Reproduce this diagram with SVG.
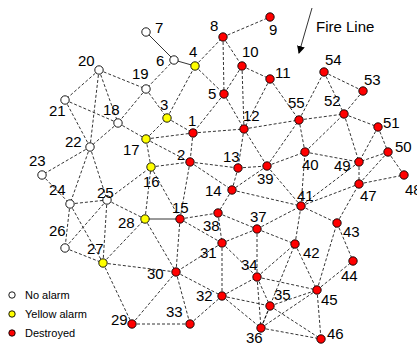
<svg xmlns="http://www.w3.org/2000/svg" width="417" height="345" viewBox="0 0 417 345">
<defs>
<style>
.e{stroke:#000;stroke-width:0.8;stroke-dasharray:3,2;fill:none}
.s{stroke:#000;stroke-width:0.8;fill:none}
.w{fill:#fff;stroke:#000;stroke-width:0.9}
.y{fill:#ffff00;stroke:#000;stroke-width:0.9}
.r{fill:#ff0000;stroke:#000;stroke-width:0.9}
.t{font-family:"Liberation Sans",Arial,sans-serif;font-size:15px;fill:#000}
.l{font-family:"Liberation Sans",Arial,sans-serif;font-size:11px;fill:#000}
</style>
<marker id="ah" markerWidth="8" markerHeight="8" refX="7" refY="4" orient="auto" markerUnits="userSpaceOnUse"><path d="M0,0 L8,4 L0,8 Z" fill="#000"/></marker>
</defs>
<rect width="417" height="345" fill="#fff"/>
<g id="connectors">
<line class="s" x1="146" y1="32" x2="174" y2="60"/>
<line class="s" x1="174" y1="60" x2="195" y2="66"/>
<line class="e" x1="174" y1="60" x2="146" y2="89"/>
<line class="e" x1="99" y1="70" x2="146" y2="89"/>
<line class="e" x1="99" y1="70" x2="65" y2="100"/>
<line class="e" x1="99" y1="70" x2="90" y2="147"/>
<line class="e" x1="99" y1="70" x2="118" y2="123"/>
<line class="e" x1="65" y1="100" x2="118" y2="123"/>
<line class="e" x1="65" y1="100" x2="90" y2="147"/>
<line class="e" x1="146" y1="89" x2="118" y2="123"/>
<line class="e" x1="146" y1="89" x2="167" y2="118"/>
<line class="e" x1="118" y1="123" x2="90" y2="147"/>
<line class="e" x1="118" y1="123" x2="146" y2="139"/>
<line class="e" x1="90" y1="147" x2="42" y2="175"/>
<line class="e" x1="90" y1="147" x2="70" y2="204"/>
<line class="e" x1="90" y1="147" x2="107" y2="200"/>
<line class="e" x1="42" y1="175" x2="70" y2="204"/>
<line class="e" x1="70" y1="204" x2="107" y2="200"/>
<line class="e" x1="70" y1="204" x2="65" y2="248"/>
<line class="e" x1="70" y1="204" x2="103" y2="263"/>
<line class="e" x1="107" y1="200" x2="65" y2="248"/>
<line class="e" x1="107" y1="200" x2="103" y2="263"/>
<line class="e" x1="107" y1="200" x2="145" y2="219"/>
<line class="e" x1="107" y1="200" x2="151" y2="167"/>
<line class="e" x1="65" y1="248" x2="103" y2="263"/>
<line class="e" x1="103" y1="263" x2="145" y2="219"/>
<line class="e" x1="103" y1="263" x2="176" y2="272"/>
<line class="e" x1="103" y1="263" x2="132" y2="324"/>
<line class="s" x1="145" y1="219" x2="180" y2="219"/>
<line class="e" x1="145" y1="219" x2="151" y2="167"/>
<line class="e" x1="145" y1="219" x2="176" y2="272"/>
<line class="e" x1="151" y1="167" x2="146" y2="139"/>
<line class="e" x1="151" y1="167" x2="190" y2="162"/>
<line class="e" x1="151" y1="167" x2="180" y2="219"/>
<line class="e" x1="146" y1="139" x2="193" y2="133"/>
<line class="e" x1="146" y1="139" x2="167" y2="118"/>
<line class="e" x1="146" y1="139" x2="190" y2="162"/>
<line class="e" x1="167" y1="118" x2="195" y2="66"/>
<line class="e" x1="167" y1="118" x2="193" y2="133"/>
<line class="e" x1="195" y1="66" x2="223" y2="37"/>
<line class="e" x1="195" y1="66" x2="224" y2="94"/>
<line class="e" x1="223" y1="37" x2="270" y2="17"/>
<line class="e" x1="223" y1="37" x2="242" y2="66"/>
<line class="e" x1="223" y1="37" x2="224" y2="94"/>
<line class="e" x1="242" y1="66" x2="224" y2="94"/>
<line class="e" x1="242" y1="66" x2="270" y2="79"/>
<line class="e" x1="242" y1="66" x2="244" y2="129"/>
<line class="e" x1="224" y1="94" x2="193" y2="133"/>
<line class="e" x1="224" y1="94" x2="244" y2="129"/>
<line class="e" x1="270" y1="79" x2="244" y2="129"/>
<line class="e" x1="270" y1="79" x2="299" y2="120"/>
<line class="e" x1="193" y1="133" x2="244" y2="129"/>
<line class="e" x1="193" y1="133" x2="190" y2="162"/>
<line class="e" x1="244" y1="129" x2="299" y2="120"/>
<line class="e" x1="244" y1="129" x2="238" y2="168"/>
<line class="e" x1="244" y1="129" x2="267" y2="166"/>
<line class="e" x1="190" y1="162" x2="238" y2="168"/>
<line class="e" x1="190" y1="162" x2="232" y2="190"/>
<line class="e" x1="190" y1="162" x2="180" y2="219"/>
<line class="e" x1="238" y1="168" x2="267" y2="166"/>
<line class="e" x1="238" y1="168" x2="232" y2="190"/>
<line class="e" x1="267" y1="166" x2="232" y2="190"/>
<line class="e" x1="267" y1="166" x2="305" y2="152"/>
<line class="e" x1="267" y1="166" x2="299" y2="120"/>
<line class="e" x1="267" y1="166" x2="301" y2="206"/>
<line class="e" x1="232" y1="190" x2="301" y2="206"/>
<line class="e" x1="232" y1="190" x2="218" y2="213"/>
<line class="e" x1="180" y1="219" x2="218" y2="213"/>
<line class="e" x1="180" y1="219" x2="176" y2="272"/>
<line class="e" x1="180" y1="219" x2="222" y2="243"/>
<line class="e" x1="218" y1="213" x2="222" y2="243"/>
<line class="e" x1="218" y1="213" x2="257" y2="229"/>
<line class="e" x1="257" y1="229" x2="301" y2="206"/>
<line class="e" x1="257" y1="229" x2="295" y2="244"/>
<line class="e" x1="257" y1="229" x2="257" y2="277"/>
<line class="e" x1="257" y1="229" x2="222" y2="243"/>
<line class="e" x1="222" y1="243" x2="176" y2="272"/>
<line class="e" x1="222" y1="243" x2="257" y2="277"/>
<line class="e" x1="222" y1="243" x2="222" y2="296"/>
<line class="e" x1="176" y1="272" x2="222" y2="296"/>
<line class="e" x1="176" y1="272" x2="190" y2="324"/>
<line class="e" x1="176" y1="272" x2="132" y2="324"/>
<line class="e" x1="132" y1="324" x2="190" y2="324"/>
<line class="e" x1="190" y1="324" x2="222" y2="296"/>
<line class="e" x1="222" y1="296" x2="257" y2="277"/>
<line class="e" x1="222" y1="296" x2="270" y2="306"/>
<line class="e" x1="222" y1="296" x2="261" y2="328"/>
<line class="e" x1="257" y1="277" x2="270" y2="306"/>
<line class="e" x1="257" y1="277" x2="261" y2="328"/>
<line class="e" x1="257" y1="277" x2="295" y2="244"/>
<line class="e" x1="257" y1="277" x2="317" y2="290"/>
<line class="e" x1="270" y1="306" x2="261" y2="328"/>
<line class="e" x1="270" y1="306" x2="317" y2="290"/>
<line class="e" x1="270" y1="306" x2="321" y2="339"/>
<line class="e" x1="261" y1="328" x2="317" y2="290"/>
<line class="e" x1="261" y1="328" x2="321" y2="339"/>
<line class="e" x1="261" y1="328" x2="295" y2="244"/>
<line class="e" x1="295" y1="244" x2="301" y2="206"/>
<line class="e" x1="295" y1="244" x2="317" y2="290"/>
<line class="e" x1="317" y1="290" x2="337" y2="223"/>
<line class="e" x1="317" y1="290" x2="353" y2="261"/>
<line class="e" x1="317" y1="290" x2="321" y2="339"/>
<line class="e" x1="337" y1="223" x2="353" y2="261"/>
<line class="e" x1="301" y1="206" x2="337" y2="223"/>
<line class="e" x1="301" y1="206" x2="305" y2="152"/>
<line class="e" x1="301" y1="206" x2="359" y2="184"/>
<line class="e" x1="301" y1="206" x2="359" y2="162"/>
<line class="e" x1="337" y1="223" x2="359" y2="184"/>
<line class="e" x1="305" y1="152" x2="299" y2="120"/>
<line class="e" x1="305" y1="152" x2="359" y2="162"/>
<line class="e" x1="305" y1="152" x2="344" y2="114"/>
<line class="e" x1="299" y1="120" x2="344" y2="114"/>
<line class="e" x1="299" y1="120" x2="324" y2="72"/>
<line class="e" x1="324" y1="72" x2="344" y2="114"/>
<line class="e" x1="324" y1="72" x2="363" y2="91"/>
<line class="e" x1="363" y1="91" x2="344" y2="114"/>
<line class="e" x1="344" y1="114" x2="378" y2="127"/>
<line class="e" x1="344" y1="114" x2="359" y2="162"/>
<line class="e" x1="378" y1="127" x2="359" y2="162"/>
<line class="e" x1="378" y1="127" x2="388" y2="152"/>
<line class="e" x1="388" y1="152" x2="359" y2="162"/>
<line class="e" x1="388" y1="152" x2="404" y2="175"/>
<line class="e" x1="388" y1="152" x2="359" y2="184"/>
<line class="e" x1="359" y1="162" x2="359" y2="184"/>
<line class="e" x1="359" y1="184" x2="404" y2="175"/>
<line class="s" x1="312" y1="8" x2="299" y2="53" marker-end="url(#ah)"/>
</g>
<g id="nodes">
<g id="n7"><circle class="w" cx="146" cy="32" r="4.2"/><text class="t" x="155" y="33">7</text></g>
<g id="n8"><circle class="r" cx="223" cy="37" r="4.2"/><text class="t" x="210" y="31">8</text></g>
<g id="n9"><circle class="r" cx="270" cy="17" r="4.2"/><text class="t" x="269" y="35">9</text></g>
<g id="n6"><circle class="w" cx="174" cy="60" r="4.2"/><text class="t" x="156" y="66">6</text></g>
<g id="n4"><circle class="y" cx="195" cy="66" r="4.2"/><text class="t" x="189" y="57">4</text></g>
<g id="n10"><circle class="r" cx="242" cy="66" r="4.2"/><text class="t" x="242" y="57">10</text></g>
<g id="n11"><circle class="r" cx="270" cy="79" r="4.2"/><text class="t" x="275" y="78">11</text></g>
<g id="n5"><circle class="r" cx="224" cy="94" r="4.2"/><text class="t" x="208" y="99">5</text></g>
<g id="n19"><circle class="w" cx="146" cy="89" r="4.2"/><text class="t" x="132" y="79">19</text></g>
<g id="n20"><circle class="w" cx="99" cy="70" r="4.2"/><text class="t" x="78" y="66">20</text></g>
<g id="n21"><circle class="w" cx="65" cy="100" r="4.2"/><text class="t" x="49" y="116">21</text></g>
<g id="n18"><circle class="w" cx="118" cy="123" r="4.2"/><text class="t" x="103" y="115">18</text></g>
<g id="n3"><circle class="y" cx="167" cy="118" r="4.2"/><text class="t" x="160" y="110">3</text></g>
<g id="n1"><circle class="r" cx="193" cy="133" r="4.2"/><text class="t" x="188" y="126">1</text></g>
<g id="n17"><circle class="y" cx="146" cy="139" r="4.2"/><text class="t" x="123" y="155">17</text></g>
<g id="n2"><circle class="r" cx="190" cy="162" r="4.2"/><text class="t" x="177" y="160">2</text></g>
<g id="n22"><circle class="w" cx="90" cy="147" r="4.2"/><text class="t" x="65" y="147">22</text></g>
<g id="n16"><circle class="y" cx="151" cy="167" r="4.2"/><text class="t" x="143" y="187">16</text></g>
<g id="n12"><circle class="r" cx="244" cy="129" r="4.2"/><text class="t" x="243" y="121">12</text></g>
<g id="n55"><circle class="r" cx="299" cy="120" r="4.2"/><text class="t" x="288" y="108">55</text></g>
<g id="n13"><circle class="r" cx="238" cy="168" r="4.2"/><text class="t" x="223" y="162">13</text></g>
<g id="n39"><circle class="r" cx="267" cy="166" r="4.2"/><text class="t" x="257" y="184">39</text></g>
<g id="n40"><circle class="r" cx="305" cy="152" r="4.2"/><text class="t" x="302" y="170">40</text></g>
<g id="n14"><circle class="r" cx="232" cy="190" r="4.2"/><text class="t" x="205" y="196">14</text></g>
<g id="n41"><circle class="r" cx="301" cy="206" r="4.2"/><text class="t" x="297" y="201">41</text></g>
<g id="n15"><circle class="r" cx="180" cy="219" r="4.2"/><text class="t" x="172" y="213">15</text></g>
<g id="n38"><circle class="r" cx="218" cy="213" r="4.2"/><text class="t" x="203" y="231">38</text></g>
<g id="n37"><circle class="r" cx="257" cy="229" r="4.2"/><text class="t" x="250" y="222">37</text></g>
<g id="n43"><circle class="r" cx="337" cy="223" r="4.2"/><text class="t" x="343" y="237">43</text></g>
<g id="n31"><circle class="r" cx="222" cy="243" r="4.2"/><text class="t" x="200" y="258">31</text></g>
<g id="n42"><circle class="r" cx="295" cy="244" r="4.2"/><text class="t" x="303" y="258">42</text></g>
<g id="n34"><circle class="r" cx="257" cy="277" r="4.2"/><text class="t" x="241" y="270">34</text></g>
<g id="n44"><circle class="r" cx="353" cy="261" r="4.2"/><text class="t" x="341" y="281">44</text></g>
<g id="n30"><circle class="r" cx="176" cy="272" r="4.2"/><text class="t" x="147" y="279">30</text></g>
<g id="n32"><circle class="r" cx="222" cy="296" r="4.2"/><text class="t" x="196" y="301">32</text></g>
<g id="n35"><circle class="r" cx="270" cy="306" r="4.2"/><text class="t" x="274" y="300">35</text></g>
<g id="n45"><circle class="r" cx="317" cy="290" r="4.2"/><text class="t" x="321" y="305">45</text></g>
<g id="n33"><circle class="r" cx="190" cy="324" r="4.2"/><text class="t" x="166" y="317">33</text></g>
<g id="n36"><circle class="r" cx="261" cy="328" r="4.2"/><text class="t" x="246" y="343">36</text></g>
<g id="n46"><circle class="r" cx="321" cy="339" r="4.2"/><text class="t" x="327" y="339">46</text></g>
<g id="n29"><circle class="r" cx="132" cy="324" r="4.2"/><text class="t" x="111" y="325">29</text></g>
<g id="n23"><circle class="w" cx="42" cy="175" r="4.2"/><text class="t" x="29" y="166">23</text></g>
<g id="n24"><circle class="w" cx="70" cy="204" r="4.2"/><text class="t" x="49" y="195">24</text></g>
<g id="n25"><circle class="w" cx="107" cy="200" r="4.2"/><text class="t" x="97" y="198">25</text></g>
<g id="n26"><circle class="w" cx="65" cy="248" r="4.2"/><text class="t" x="49" y="236">26</text></g>
<g id="n27"><circle class="y" cx="103" cy="263" r="4.2"/><text class="t" x="87" y="254">27</text></g>
<g id="n28"><circle class="y" cx="145" cy="219" r="4.2"/><text class="t" x="118" y="228">28</text></g>
<g id="n54"><circle class="r" cx="324" cy="72" r="4.2"/><text class="t" x="325" y="65">54</text></g>
<g id="n53"><circle class="r" cx="363" cy="91" r="4.2"/><text class="t" x="364" y="85">53</text></g>
<g id="n52"><circle class="r" cx="344" cy="114" r="4.2"/><text class="t" x="324" y="106">52</text></g>
<g id="n51"><circle class="r" cx="378" cy="127" r="4.2"/><text class="t" x="383" y="128">51</text></g>
<g id="n50"><circle class="r" cx="388" cy="152" r="4.2"/><text class="t" x="395" y="152">50</text></g>
<g id="n49"><circle class="r" cx="359" cy="162" r="4.2"/><text class="t" x="334" y="171">49</text></g>
<g id="n48"><circle class="r" cx="404" cy="175" r="4.2"/><text class="t" x="405" y="195">48</text></g>
<g id="n47"><circle class="r" cx="359" cy="184" r="4.2"/><text class="t" x="360" y="201">47</text></g>
</g>
<g id="fireline"><text class="t" x="316" y="32">Fire Line</text></g>
<g id="legend">
<circle class="w" cx="12" cy="295" r="3.2"/><text class="l" x="25" y="299">No alarm</text>
<circle class="y" cx="12" cy="314" r="3.2"/><text class="l" x="25" y="318">Yellow alarm</text>
<circle class="r" cx="12" cy="333" r="3.2"/><text class="l" x="25" y="337">Destroyed</text>
</g>
</svg>
